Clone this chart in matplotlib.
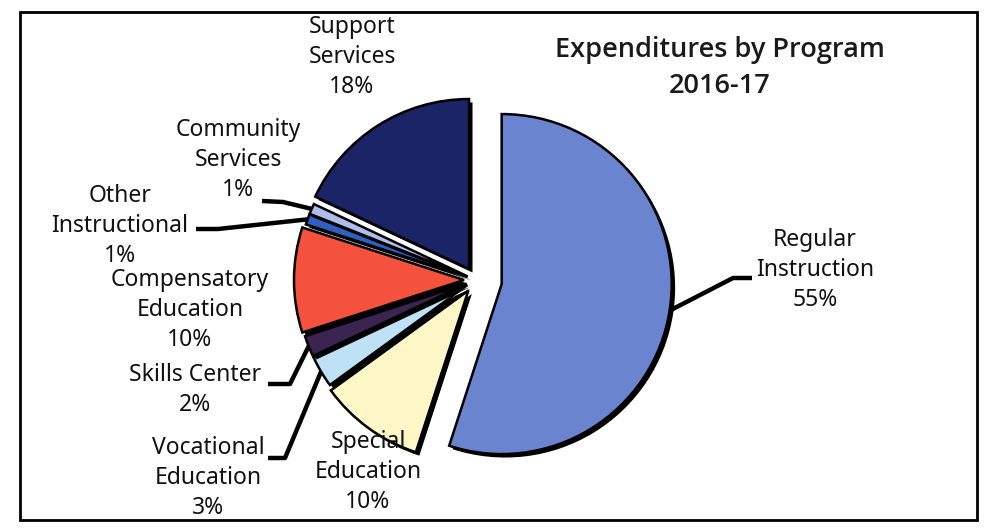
import math
import matplotlib
matplotlib.use('Agg')
import matplotlib.pyplot as plt
import matplotlib.patheffects as pe
from matplotlib.patches import Rectangle

# Expenditures by program, 2016-17 (percent of total)
programs = ['Regular\nInstruction', 'Special\nEducation', 'Vocational\nEducation',
            'Skills Center', 'Compensatory\nEducation', 'Other\nInstructional',
            'Community\nServices', 'Support\nServices']
shares = [55, 10, 3, 2, 10, 1, 1, 18]
colors = ['#6a84cf', '#fdf7c8', '#bfe1f6', '#3b2352', '#f4523d', '#2e5fc2',
          '#aebde9', '#1b2466']

W, H = 991, 530
fig = plt.figure(figsize=(W / 100, H / 100), dpi=100)
ax = fig.add_axes([0, 0, 1, 1])

cx, cy, R = 476, 250, 170
explode = [26, 13, 10, 10, 12, 9, 9, 13]

shadow = [pe.SimplePatchShadow(offset=(2.5, -2.5), shadow_rgbFace='black', alpha=1.0),
          pe.Normal()]
wedges, _ = ax.pie(shares, colors=colors, startangle=90, counterclock=False,
                   center=(cx, cy), radius=R, explode=explode,
                   wedgeprops=dict(edgecolor='black', linewidth=1.8))
for w in wedges:
    w.set_path_effects(shadow)

ax.set_xlim(0, W)
ax.set_ylim(0, H)
ax.set_aspect('equal')
ax.axis('off')


def rim_point(w, frac=1.0):
    # point along the wedge's middle direction, frac of the radius out
    a = math.radians((w.theta1 + w.theta2) / 2)
    x0, y0 = w.center
    return x0 + frac * w.r * math.cos(a), y0 + frac * w.r * math.sin(a)


def Y(y):
    return H - y


label_font = dict(family=['Noto Sans', 'DejaVu Sans'], fontsize=16.5,
                  color='#111111', ha='center', va='center', linespacing=1.33)

# label text, placed around the pie
label_pos = [(815, 270), (368, 472), (208, 478), (195, 390), (190, 310),
             (120, 226), (238, 160), (352, 57)]
for name, share, (lx, ly) in zip(programs, shares, label_pos):
    ax.text(lx, Y(ly), f'{name}\n{share}%', **label_font)

# leader lines: start at the label, elbow, then into the wedge
leaders = {
    0: [(752, 278), (733, 278)],
    2: [(268, 458), (285, 458)],
    3: [(268, 384), (290, 384)],
    5: [(196, 229), (218, 229)],
    6: [(262, 201), (283, 202)],
}
for i, pts in leaders.items():
    ex, ey = rim_point(wedges[i])
    xs = [p[0] for p in pts] + [ex]
    ys = [Y(p[1]) for p in pts] + [ey]
    ax.plot(xs, ys, color='black', lw=3.2, solid_capstyle='butt', zorder=1)

ax.text(720, Y(68), 'Expenditures by Program\n2016-17', fontsize=19.5,
        family=['Open Sans', 'DejaVu Sans'], weight='semibold', color='#1a1a1a',
        ha='center', va='center', linespacing=1.35)

frame = Rectangle((20, Y(520)), 957, 508, fill=False, edgecolor='black', lw=2)
ax.add_patch(frame)

fig.savefig('out.png', dpi=100, facecolor='white')
